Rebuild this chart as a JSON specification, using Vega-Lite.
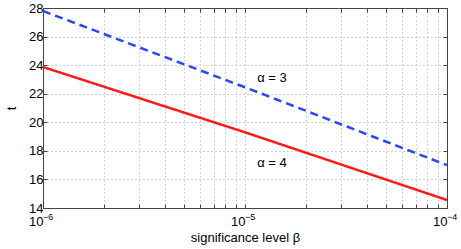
{
  "$schema": "https://vega.github.io/schema/vega-lite/v6.json",
  "width": 404,
  "height": 200,
  "autosize": {"type": "none"},
  "padding": {"left": 43, "top": 8, "right": 14, "bottom": 41},
  "background": "white",
  "config": {
    "font": "Liberation Sans",
    "view": {"stroke": "#555555", "strokeWidth": 1},
    "axis": {
      "labelFont": "Liberation Sans",
      "titleFont": "Liberation Sans",
      "labelFontSize": 13,
      "titleFontSize": 13,
      "labelColor": "#000000",
      "titleColor": "#000000",
      "titleFontWeight": "normal",
      "domainColor": "#444444",
      "tickColor": "#444444",
      "gridColor": "#999999",
      "gridDash": [1, 3],
      "gridOpacity": 0.9
    }
  },
  "datasets": {
    "lines": [
      {"beta": 1e-6, "t": 27.79, "alpha": "3"},
      {"beta": 1e-5, "t": 22.45, "alpha": "3"},
      {"beta": 1e-4, "t": 17.0, "alpha": "3"},
      {"beta": 1e-6, "t": 23.87, "alpha": "4"},
      {"beta": 1e-5, "t": 19.3, "alpha": "4"},
      {"beta": 1e-4, "t": 14.56, "alpha": "4"}
    ],
    "labels": [
      {"beta": 1.36e-5, "t": 23.1, "label": "α = 3"},
      {"beta": 1.36e-5, "t": 17.15, "label": "α = 4"}
    ],
    "exps": [
      {"beta": 1e-6, "t": 14, "e": "−6"},
      {"beta": 1e-5, "t": 14, "e": "−5"},
      {"beta": 1e-4, "t": 14, "e": "−4"}
    ]
  },
  "resolve": {"axis": {"x": "independent", "y": "independent"}},
  "layer": [
    {
      "data": {"name": "lines"},
      "mark": {"type": "line", "strokeWidth": 2.5, "clip": true},
      "encoding": {
        "x": {
          "field": "beta", "type": "quantitative",
          "scale": {"type": "log", "domain": [1e-6, 1e-4], "nice": false},
          "axis": {
            "title": "significance level β",
            "titlePadding": 3,
            "values": [1e-6, 2e-6, 3e-6, 4e-6, 5e-6, 6e-6, 7e-6, 8e-6, 9e-6, 1e-5, 2e-5, 3e-5, 4e-5, 5e-5, 6e-5, 7e-5, 8e-5, 9e-5, 1e-4],
            "labelExpr": "abs(datum.value - 1e-6) < 1e-9 ? '10' : abs(datum.value - 1e-5) < 1e-8 ? '10' : abs(datum.value - 1e-4) < 1e-7 ? '10' : ''",
            "labelOverlap": false,
            "labelFlush": false,
            "labelAlign": "right",
            "labelBaseline": "top",
            "tickSize": -4,
            "labelPadding": 11,
            "grid": true
          }
        },
        "y": {
          "field": "t", "type": "quantitative",
          "scale": {"domain": [14, 28], "nice": false, "zero": false},
          "axis": {
            "title": "t",
            "titlePadding": 10,
            "values": [14, 16, 18, 20, 22, 24, 26, 28],
            "labelOverlap": false,
            "labelFlush": false,
            "tickSize": -4,
            "labelPadding": 4,
            "grid": true
          }
        },
        "color": {
          "field": "alpha", "type": "nominal",
          "scale": {"domain": ["3", "4"], "range": ["#2a46ff", "#ff1a1a"]},
          "legend": null
        },
        "strokeDash": {
          "field": "alpha", "type": "nominal",
          "scale": {"domain": ["3", "4"], "range": [[8, 5], [1, 0]]},
          "legend": null
        }
      }
    },
    {
      "data": {"name": "lines"},
      "mark": {"type": "point", "opacity": 0},
      "encoding": {
        "x": {
          "field": "beta", "type": "quantitative",
          "axis": {
            "orient": "top", "title": null, "labels": false, "grid": false,
            "values": [1e-6, 2e-6, 3e-6, 4e-6, 5e-6, 6e-6, 7e-6, 8e-6, 9e-6, 1e-5, 2e-5, 3e-5, 4e-5, 5e-5, 6e-5, 7e-5, 8e-5, 9e-5, 1e-4],
            "tickSize": -4
          }
        },
        "y": {
          "field": "t", "type": "quantitative",
          "axis": {
            "orient": "right", "title": null, "labels": false, "grid": false,
            "values": [14, 16, 18, 20, 22, 24, 26, 28],
            "tickSize": -4
          }
        }
      }
    },
    {
      "data": {"name": "labels"},
      "mark": {"type": "text", "fontSize": 13, "font": "Liberation Sans", "color": "#000000"},
      "encoding": {
        "x": {"field": "beta", "type": "quantitative", "axis": null},
        "y": {"field": "t", "type": "quantitative", "axis": null},
        "text": {"field": "label"}
      }
    },
    {
      "data": {"name": "exps"},
      "mark": {"type": "text", "fontSize": 9, "font": "Liberation Sans", "color": "#000000", "align": "left", "baseline": "top", "dy": 5, "dx": 0, "clip": false},
      "encoding": {
        "x": {"field": "beta", "type": "quantitative", "axis": null},
        "y": {"field": "t", "type": "quantitative", "axis": null},
        "text": {"field": "e"}
      }
    }
  ]
}
